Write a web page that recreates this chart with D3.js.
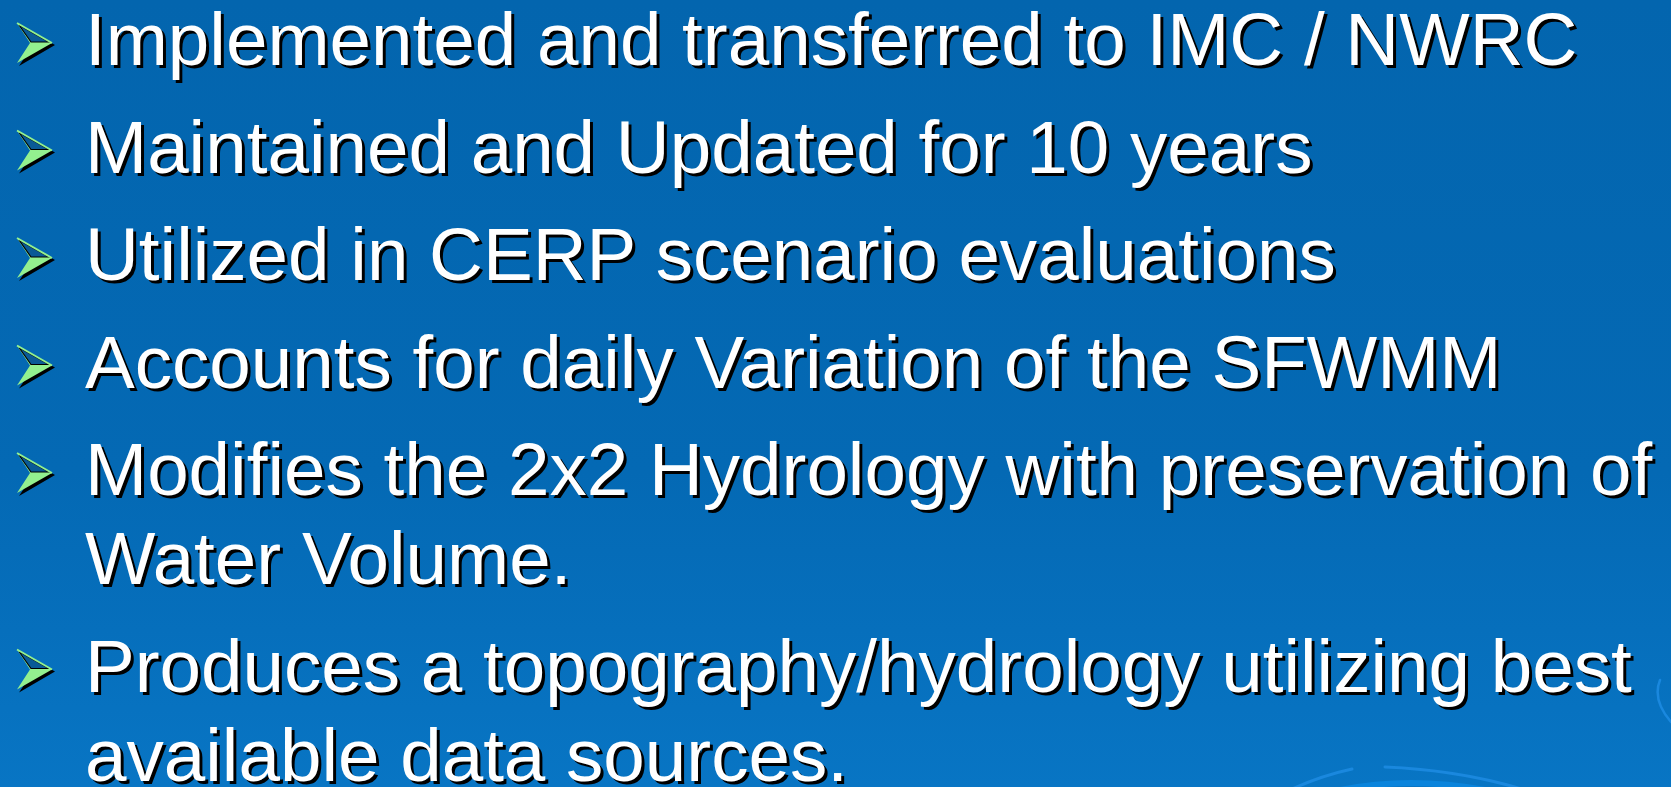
<!DOCTYPE html>
<html>
<head>
<meta charset="utf-8">
<script src="https://cdn.jsdelivr.net/npm/d3@7"></script>
<style>
html,body{margin:0;padding:0;overflow:hidden;background:#0366b0;}
svg{display:block;}
</style>
</head>
<body>
<svg id="slide" width="1671" height="787"></svg>
<script>
// Slide content
const bulletLines = [
  ["Implemented and transferred to IMC / NWRC"],
  ["Maintained and Updated for 10 years"],
  ["Utilized in CERP scenario evaluations"],
  ["Accounts for daily Variation of the SFWMM"],
  ["Modifies the 2x2 Hydrology with preservation of", "Water Volume."],
  ["Produces a topography/hydrology utilizing best", "available data sources."]
];

const W = 1671, H = 787;
const svg = d3.select("#slide");
const defs = svg.append("defs");

const grad = defs.append("linearGradient").attr("id", "bg").attr("x1", 0).attr("y1", 0).attr("x2", 0).attr("y2", 1);
grad.append("stop").attr("offset", "0%").attr("stop-color", "#0365ae");
grad.append("stop").attr("offset", "60%").attr("stop-color", "#0469b4");
grad.append("stop").attr("offset", "100%").attr("stop-color", "#0875c4");
svg.append("rect").attr("width", W).attr("height", H).attr("fill", "url(#bg)");

// decorative arcs bottom-right
const deco = svg.append("g").attr("fill", "none").attr("stroke", "#1a88de").attr("stroke-width", 3).attr("stroke-linecap", "round");
deco.append("path").attr("d", "M1290,790 Q1320,776 1352,769");
deco.append("path").attr("d", "M1385,767 Q1460,770 1525,790");
deco.append("path").attr("d", "M1340,790 Q1410,776 1485,790").attr("stroke", "#0a84dc").attr("stroke-width", 6);
deco.append("path").attr("d", "M1660,680 Q1652,700 1671,722").attr("stroke-width", 2.5);

// layout: line height and paragraph gap
const lineH = 89, paraGap = 18.5, firstBase = 65;
const rows = [];
let y = firstBase;
bulletLines.forEach((lines, bi) => {
  lines.forEach((t, li) => {
    rows.push({text: t, y: y, bullet: li === 0});
    y += lineH;
  });
  y += paraGap;
});

const fontSize = 74.6;
const textX = 85;

// bullets
const bullets = svg.append("g");
rows.filter(r => r.bullet).forEach(r => {
  const g = bullets.append("g").attr("transform", `translate(0,${r.y})`);
  // shadow
  g.append("path").attr("d", "M19,-40 L55,-20 L19,1 L33,-20 Z").attr("fill", "#000");
  // lower light facet
  g.append("path").attr("d", "M17,-42 L52,-22 L17,-2 L30,-22 Z").attr("fill", "#93f08f");
  // upper dark facet
  g.append("path").attr("d", "M19,-40 L49,-23 L31,-23 Z").attr("fill", "#0a5a96").attr("stroke", "#000").attr("stroke-width", 1.2);
  g.append("path").attr("d", "M17,-42 L52,-22").attr("stroke", "#93f08f").attr("stroke-width", 2);
});

// text with shadow
const txt = svg.append("g").attr("font-family", "'Liberation Sans', Arial, sans-serif").attr("font-size", fontSize);
txt.selectAll("text.sh").data(rows).join("text").attr("class", "sh")
  .attr("x", textX + 3).attr("y", d => d.y + 3).attr("fill", "#000").text(d => d.text);
txt.selectAll("text.fg").data(rows).join("text").attr("class", "fg")
  .attr("x", textX).attr("y", d => d.y).attr("fill", "#fff").text(d => d.text);
</script>
</body>
</html>
